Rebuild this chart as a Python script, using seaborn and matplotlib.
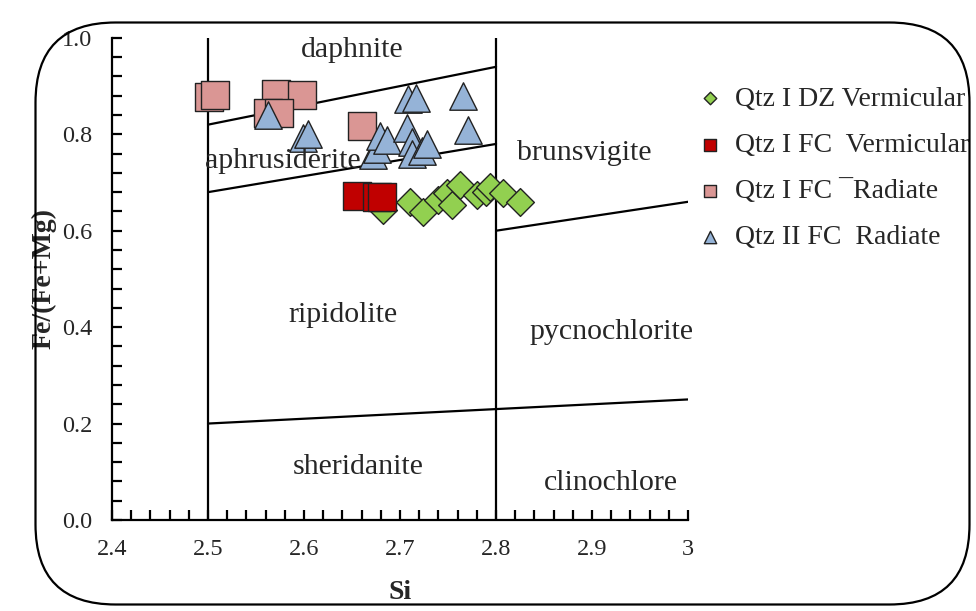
import numpy as np
import pandas as pd
import matplotlib
matplotlib.use("Agg")
import matplotlib.pyplot as plt
import seaborn as sns
from matplotlib.patches import FancyBboxPatch
from matplotlib.ticker import MultipleLocator

# --- data ---
dz_verm_si = [2.682, 2.710, 2.724, 2.739, 2.749, 2.754, 2.762, 2.780, 2.790, 2.794, 2.807, 2.825]
dz_verm_fe = [0.643, 0.660, 0.639, 0.664, 0.678, 0.654, 0.695, 0.674, 0.680, 0.691, 0.678, 0.660]

fc_verm_si = [2.655, 2.676, 2.681]
fc_verm_fe = [0.672, 0.670, 0.670]

fc_rad_si = [2.501, 2.507, 2.571, 2.598, 2.562, 2.574, 2.660]
fc_rad_fe = [0.878, 0.882, 0.884, 0.882, 0.844, 0.844, 0.817]

q2_rad_si = [2.562, 2.599, 2.604, 2.708, 2.717, 2.766, 2.771, 2.672, 2.676,
             2.679, 2.686, 2.707, 2.712, 2.712, 2.723, 2.728]
q2_rad_fe = [0.840, 0.793, 0.800, 0.873, 0.876, 0.880, 0.809, 0.757, 0.770,
             0.797, 0.788, 0.813, 0.784, 0.760, 0.765, 0.780]

series_names = ["Qtz I DZ Vermicular", "Qtz I FC  Vermicular", "Qtz I FC \u00afRadiate", "Qtz II FC  Radiate"]

# field boundaries (Si, Fe/(Fe+Mg))
bounds = [
    ([2.5, 2.5], [0.0, 1.0]),
    ([2.8, 2.8], [0.0, 1.0]),
    ([2.5, 2.8], [0.82, 0.94]),
    ([2.5, 2.8], [0.68, 0.78]),
    ([2.8, 3.0], [0.60, 0.66]),
    ([2.5, 3.0], [0.20, 0.25]),
]
field_names = ["daphnite", "aphrusiderite", "brunsvigite", "ripidolite",
               "pycnochlorite", "sheridanite", "clinochlore"]
field_si = [2.65, 2.578, 2.892, 2.64, 2.92, 2.656, 2.92]
field_fe = [0.975, 0.745, 0.762, 0.425, 0.39, 0.11, 0.077]

sns.set_style("ticks")
plt.rcParams['font.family'] = ['Liberation Serif', 'DejaVu Serif']

fig = plt.figure(figsize=(9.76, 6.11), dpi=100)
ax = fig.add_axes([0.1148, 0.149, 0.5902, 0.789])

# rounded frame around the whole figure
frame = FancyBboxPatch((0.355, 0.065), 9.34, 5.82,
                       boxstyle="round,pad=0,rounding_size=0.8",
                       transform=fig.dpi_scale_trans, fill=False,
                       edgecolor="black", linewidth=1.6, zorder=0)
fig.patches.append(frame)

for bx, by in bounds:
    ax.plot(bx, by, color="black", linewidth=1.6, zorder=1)

styles = [
    (dz_verm_si, dz_verm_fe, "D", 200, "#92D050"),
    (fc_verm_si, fc_verm_fe, "s", 400, "#C00000"),
    (fc_rad_si, fc_rad_fe, "s", 400, "#DA9694"),
    (q2_rad_si, q2_rad_fe, "^", 390, "#95B3D7"),
]
for (sx, sy, mk, sz, col), name in zip(styles, series_names):
    df = pd.DataFrame({"Si": sx, "Fe": sy})
    sns.scatterplot(data=df, x="Si", y="Fe", marker=mk, s=sz, color=col,
                    edgecolor="#222222", linewidth=1.0, label=name, ax=ax, zorder=3)

for name, fx, fy in zip(field_names, field_si, field_fe):
    ax.text(fx, fy, name, ha="center", va="center", fontsize=21.5, zorder=4)

ax.set_xlim(2.4, 3.0)
ax.set_ylim(0, 1.0)
ax.set_xticks([2.4, 2.5, 2.6, 2.7, 2.8, 2.9, 3.0])
ax.set_xticklabels(["2.4", "2.5", "2.6", "2.7", "2.8", "2.9", "3"])
ax.set_yticks([0.0, 0.2, 0.4, 0.6, 0.8, 1.0])
ax.set_yticklabels(["0.0", "0.2", "0.4", "0.6", "0.8", "1.0"])
ax.xaxis.set_minor_locator(MultipleLocator(0.02))
ax.yaxis.set_minor_locator(MultipleLocator(0.04))
ax.tick_params(which="both", direction="in", width=1.6, length=7, labelsize=17.5, color="black")
ax.tick_params(axis="x", pad=14)
ax.tick_params(axis="y", pad=14)
for side in ["top", "right"]:
    ax.spines[side].set_visible(False)
for side in ["left", "bottom"]:
    ax.spines[side].set_linewidth(1.6)
    ax.spines[side].set_color("black")

ax.set_xlabel("Si", fontsize=20, fontweight="bold", labelpad=14)
ax.set_ylabel("Fe/(Fe+Mg)", fontsize=20, fontweight="bold", labelpad=4)
ax.set_facecolor("none")

leg = ax.legend(loc="upper left", bbox_to_anchor=(0.713, 0.859), bbox_transform=fig.transFigure,
                frameon=False, fontsize=20, markerscale=0.45, handlelength=1.0,
                handletextpad=0.4, labelspacing=0.75, borderaxespad=0, borderpad=0)

fig.savefig("out.png", dpi=100)
